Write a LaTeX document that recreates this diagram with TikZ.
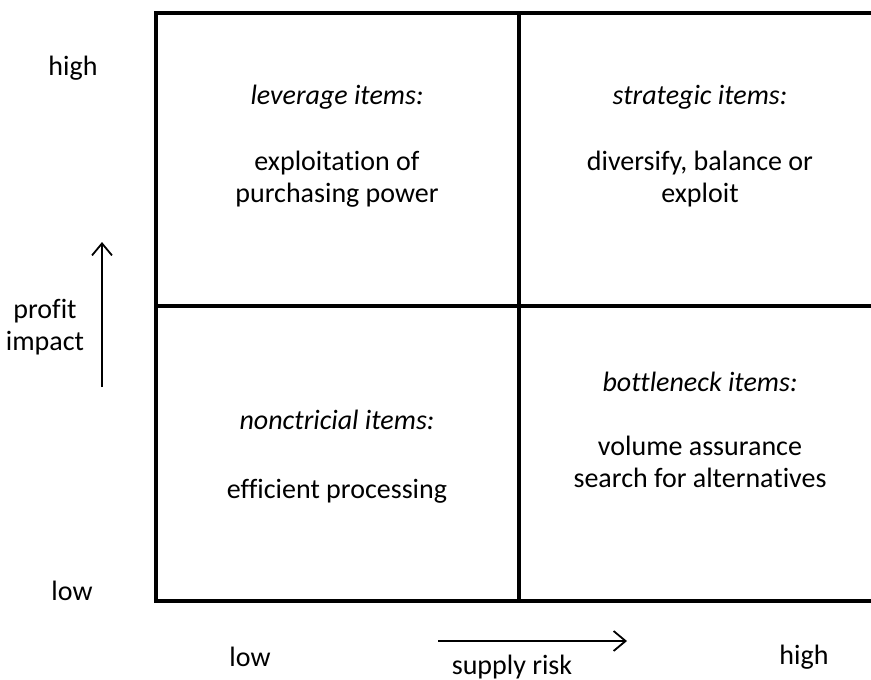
\documentclass[tikz,border=0pt]{standalone}
\usepackage{fontspec}
\setmainfont{Carlito}[Ligatures={NoCommon}]
\usetikzlibrary{arrows.meta}
\begin{document}
\begin{tikzpicture}[x=1pt,y=-1pt,
  grid/.style={line width=4pt},
  lbl/.style={font=\fontsize{28}{32}\selectfont, align=center, inner sep=0pt},
  ttl/.style={lbl, font=\fontsize{28}{32}\selectfont\itshape},
  axarrow/.style={line width=1.8pt, -{Straight Barb[length=12pt,width=20pt,line width=1.8pt]}}]
\useasboundingbox (0,0) rectangle (871,680);
% grid
\coordinate (tl) at (156,13);
\coordinate (tr) at (871,13);
\coordinate (bl) at (156,601);
\coordinate (br) at (871,601);
\coordinate (mt) at (519,13);
\coordinate (mb) at (519,601);
\coordinate (ml) at (156,306);
\coordinate (mr) at (871,306);
\draw[grid] (tr) -- (tl) -- (bl) -- (br);
\draw[grid] (mt) -- (mb);
\draw[grid] (ml) -- (mr);
% quadrant texts
\node[ttl] (lev) at (337,97) {leverage items:};
\node[lbl] (levt) at (337,179) {exploitation of\\purchasing power};
\node[ttl] (str) at (700,97) {strategic items:};
\node[lbl] (strt) at (700,179) {diversify, balance or\\exploit};
\node[ttl] (non) at (337,420) {nonctricial items:};
\node[lbl] (nont) at (337,491) {efficient processing};
\node[ttl] (bot) at (700,382) {bottleneck items:};
\node[lbl] (bott) at (700,462) {volume assurance\\search for alternatives};
% axis labels
\node[lbl] (yhigh) at (73,68) {high};
\node[lbl] (yprof) at (45,327) {profit\\impact};
\node[lbl] (ylow) at (72,591) {low};
\node[lbl] (xlow) at (250,657) {low};
\node[lbl] (xrisk) at (512,667) {supply risk};
\node[lbl] (xhigh) at (804,657) {high};
% arrows
\coordinate (ya0) at (102,387);
\coordinate (ya1) at (102,242);
\coordinate (xa0) at (438,641);
\coordinate (xa1) at (627,641);
\draw[axarrow] (ya0) -- (ya1);
\draw[axarrow] (xa0) -- (xa1);
\end{tikzpicture}
\end{document}
